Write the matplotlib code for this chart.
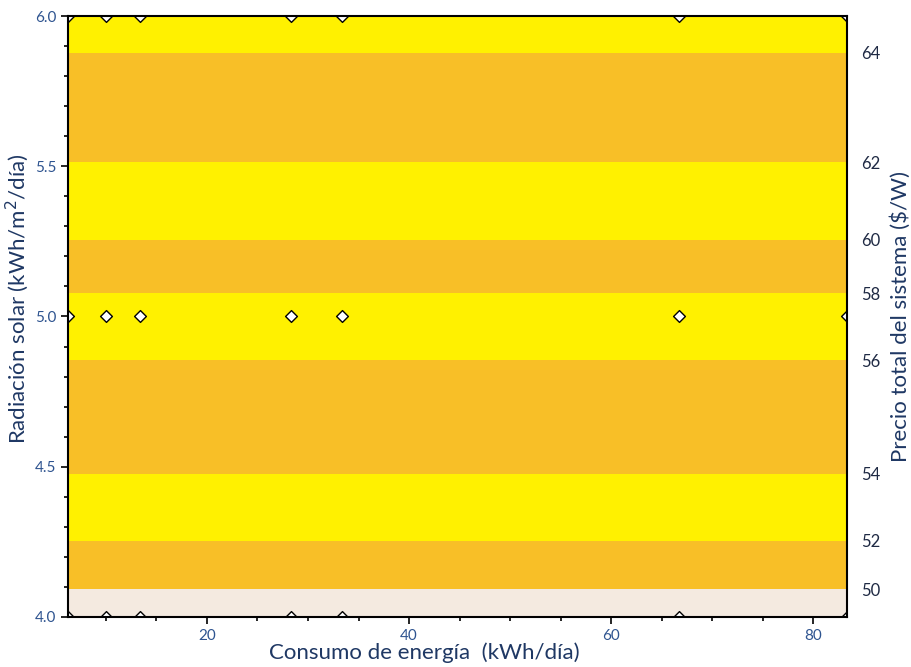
import numpy as np
import matplotlib.pyplot as plt
from matplotlib.ticker import MultipleLocator

# Datos
consumo = [6.25, 10.0, 13.33, 28.33, 33.33, 66.67, 83.33]      # kWh/día
radiacion_pts = [4.0, 5.0, 6.0]                                  # kWh/m2/día

# niveles de precio ($/W) y radiación donde aparece cada frontera
radiacion_lim = [4.0, 4.093, 4.253, 4.476, 4.855, 5.078, 5.255, 5.514, 5.877, 6.0]
precio_lim = [49.3, 50, 52, 54, 56, 58, 60, 62, 64, 64.8]
niveles = [48, 50, 52, 54, 56, 58, 60, 62, 64, 66]
colores = ["#F4EAE0", "#F8BF27", "#FFF100", "#F8BF27", "#FFF100",
           "#F8BF27", "#FFF100", "#F8BF27", "#FFF100"]
etiquetas_der = [50, 52, 54, 56, 58, 60, 62, 64]

plt.rcParams['font.family'] = ['Lato', 'DejaVu Sans']

fig = plt.figure(figsize=(9.12, 6.67), dpi=100)
ax = fig.add_axes([0.0746, 0.075, 0.854, 0.901])

X, Y = np.meshgrid([consumo[0], consumo[-1]], radiacion_lim)
Z = np.tile(np.array(precio_lim)[:, None], (1, 2))
ax.contourf(X, Y, Z, levels=niveles, colors=colores)

# marcadores, recortados en el borde de los ejes
for r in radiacion_pts:
    sc = ax.scatter(consumo, [r] * len(consumo), marker='D', s=36,
                    facecolor='white', edgecolor='black', linewidth=1.0,
                    zorder=3)
    sc.set_clip_path(ax.patch)

ax.set_xlim(consumo[0], consumo[-1])
ax.set_ylim(4.0, 6.0)
ax.xaxis.set_major_locator(MultipleLocator(20))
ax.xaxis.set_minor_locator(MultipleLocator(5))
ax.yaxis.set_major_locator(MultipleLocator(0.5))
ax.yaxis.set_minor_locator(MultipleLocator(0.1))
ax.yaxis.set_major_formatter(plt.FormatStrFormatter('%.1f'))
ax.tick_params(which='major', length=5, width=1.2, labelsize=11,
               labelcolor='#2E5490', direction='out')
ax.tick_params(which='minor', length=3, width=1.2, direction='out')
for s in ax.spines.values():
    s.set_linewidth(1.5)
    s.set_zorder(4)

ax.set_xlabel("Consumo de energía  (kWh/día)", fontsize=16, color='#1F3864')
ax.xaxis.set_label_coords(0.458, -0.043)
ax.set_ylabel("Radiación solar (kWh/m$^2$/día)", fontsize=16, color='#1F3864')
ax.yaxis.set_label_coords(-0.047, 0.53)

# eje derecho con los niveles de precio
ax2 = ax.twinx()
ax2.set_ylim(ax.get_ylim())
ax2.set_yticks(radiacion_lim[1:-1])
ax2.set_yticklabels([str(v) for v in etiquetas_der])
ax2.tick_params(axis='y', length=0, pad=10, labelsize=12, labelcolor='#1F2A44')
ax2.set_ylabel("Precio total del sistema ($/W)", fontsize=16, color='#1F3864')
ax2.yaxis.set_label_coords(1.055, 0.5)
for s in ax2.spines.values():
    s.set_visible(False)

fig.savefig("out.png", dpi=100)
